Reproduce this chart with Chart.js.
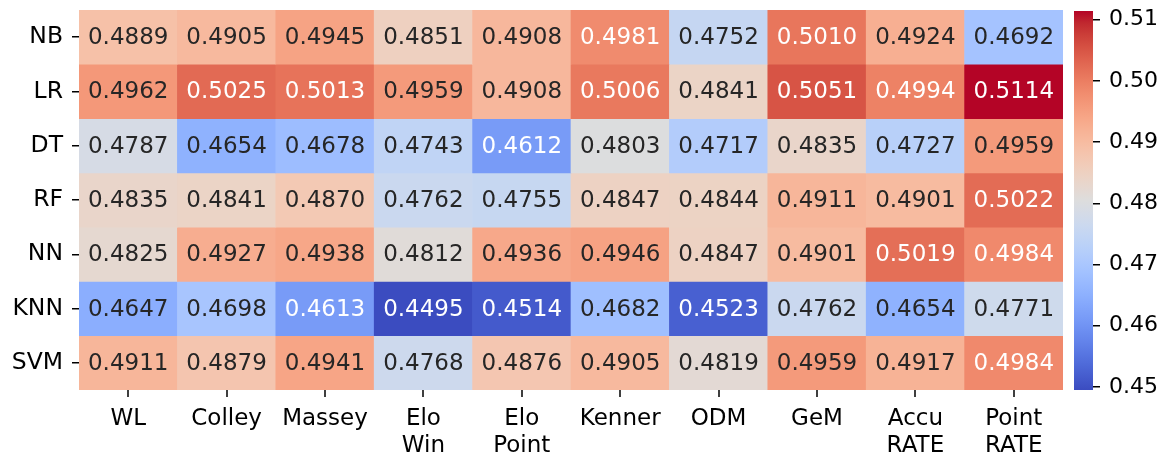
<!DOCTYPE html>
<html>
<head>
<meta charset="utf-8">
<script src="https://cdn.jsdelivr.net/npm/chart.js@4.4.1/dist/chart.umd.min.js"></script>
<style>
  body { margin: 0; background: #fff; }
  #heat { position: absolute; left: 0; top: 0; }
  #cbar { position: absolute; left: 1060px; top: 0; }
</style>
</head>
<body>
<canvas id="heat" width="1067" height="458"></canvas>
<canvas id="cbar" width="107" height="458"></canvas>
<script>
// rows / columns of the heatmap
const rowLabels = ['NB', 'LR', 'DT', 'RF', 'NN', 'KNN', 'SVM'];
const colLabels = [['WL'], ['Colley'], ['Massey'], ['Elo', 'Win'], ['Elo', 'Point'],
                   ['Kenner'], ['ODM'], ['GeM'], ['Accu', 'RATE'], ['Point', 'RATE']];

const nb  = [0.4889, 0.4905, 0.4945, 0.4851, 0.4908, 0.4981, 0.4752, 0.5010, 0.4924, 0.4692];
const lr  = [0.4962, 0.5025, 0.5013, 0.4959, 0.4908, 0.5006, 0.4841, 0.5051, 0.4994, 0.5114];
const dt  = [0.4787, 0.4654, 0.4678, 0.4743, 0.4612, 0.4803, 0.4717, 0.4835, 0.4727, 0.4959];
const rf  = [0.4835, 0.4841, 0.4870, 0.4762, 0.4755, 0.4847, 0.4844, 0.4911, 0.4901, 0.5022];
const nn  = [0.4825, 0.4927, 0.4938, 0.4812, 0.4936, 0.4946, 0.4847, 0.4901, 0.5019, 0.4984];
const knn = [0.4647, 0.4698, 0.4613, 0.4495, 0.4514, 0.4682, 0.4523, 0.4762, 0.4654, 0.4771];
const svm = [0.4911, 0.4879, 0.4941, 0.4768, 0.4876, 0.4905, 0.4819, 0.4959, 0.4917, 0.4984];

const cbTicks = [0.45, 0.46, 0.47, 0.48, 0.49, 0.50, 0.51];

const rows = [nb, lr, dt, rf, nn, knn, svm];
const allVals = rows.flat();
const vmin = Math.min(...allVals);
const vmax = Math.max(...allVals);

// coolwarm colormap (Moreland table)
const cw = [
  [59,76,192],[68,90,204],[77,104,215],[87,117,225],[98,130,234],[108,142,241],[119,154,247],[130,165,251],
  [141,176,254],[152,185,255],[163,194,255],[174,201,253],[184,208,249],[194,213,244],[204,217,238],[213,219,230],
  [221,221,221],[229,216,209],[236,211,197],[241,204,185],[245,196,173],[247,187,160],[247,177,148],[247,166,135],
  [244,154,123],[241,141,111],[236,127,99],[229,112,88],[222,96,77],[213,80,66],[203,62,56],[192,40,47],[180,4,38]
];
function cmap(t) {
  t = Math.max(0, Math.min(1, t));
  const p = t * (cw.length - 1);
  const i = Math.min(Math.floor(p), cw.length - 2);
  const f = p - i;
  return cw[i].map((c, k) => Math.round(c + (cw[i + 1][k] - c) * f));
}
const rgbStr = c => `rgb(${c[0]},${c[1]},${c[2]})`;
const colorFor = v => rgbStr(cmap((v - vmin) / (vmax - vmin)));
function textColorFor(v) {
  const c = cmap((v - vmin) / (vmax - vmin)).map(x => {
    x /= 255;
    return x <= 0.03928 ? x / 12.92 : Math.pow((x + 0.055) / 1.055, 2.4);
  });
  const lum = 0.2126 * c[0] + 0.7152 * c[1] + 0.0722 * c[2];
  return lum > 0.408 ? '#262626' : '#ffffff';
}

Chart.defaults.font.family = "'DejaVu Sans', sans-serif";
Chart.defaults.color = '#000';

const cellText = {
  id: 'cellText',
  afterDatasetsDraw(chart) {
    const ctx = chart.ctx;
    ctx.save();
    ctx.font = "23px 'DejaVu Sans'";
    ctx.textAlign = 'center';
    ctx.textBaseline = 'middle';
    chart.data.datasets.forEach((ds, di) => {
      chart.getDatasetMeta(di).data.forEach((el, i) => {
        const v = rows[di][i];
        const { x, y, base } = el.getProps(['x', 'y', 'base'], true);
        ctx.fillStyle = textColorFor(v);
        ctx.fillText(v.toFixed(4), x, (y + base) / 2 + 1);
      });
    });
    ctx.restore();
  }
};

// tick marks under each column centre
const xTickMarks = {
  id: 'xTickMarks',
  afterDraw(chart) {
    const xs = chart.scales.x;
    const bottom = chart.chartArea.bottom;
    const ctx = chart.ctx;
    ctx.save();
    ctx.fillStyle = '#000';
    chart.data.labels.forEach((lab, i) => {
      const px = Math.round(xs.getPixelForValue(i));
      ctx.fillRect(px - 0.75, bottom, 1.5, 7);
    });
    ctx.restore();
  }
};

new Chart(document.getElementById('heat').getContext('2d'), {
  type: 'bar',
  data: {
    labels: colLabels,
    datasets: rows.map((r, ri) => ({
      label: rowLabels[ri],
      data: r.map(() => 1),
      backgroundColor: r.map(colorFor),
      borderWidth: 0,
      barPercentage: 1,
      categoryPercentage: 1
    }))
  },
  options: {
    responsive: false,
    animation: false,
    layout: { padding: { top: 10, right: 4, left: 0, bottom: 0 } },
    plugins: { legend: { display: false }, tooltip: { enabled: false } },
    scales: {
      x: {
        stacked: true,
        grid: { display: false },
        border: { display: false },
        ticks: { font: { size: 23, lineHeight: 1.17 }, padding: 8, maxRotation: 0, autoSkip: false },
        afterFit(s) { s.height = 68; s.paddingLeft = 0; s.paddingRight = 0; }
      },
      y: {
        stacked: true,
        reverse: true,
        min: 0,
        max: rowLabels.length,
        grid: { drawOnChartArea: false, drawTicks: true, tickLength: 7, color: '#000', lineWidth: 1.5 },
        border: { display: false },
        afterBuildTicks(s) { s.ticks = rowLabels.map((_, i) => ({ value: i + 0.5 })); },
        ticks: { font: { size: 23.5 }, padding: 9, callback: (v, i) => rowLabels[i] },
        afterFit(s) { s.width = 79; s.paddingTop = 0; s.paddingBottom = 0; }
      }
    }
  },
  plugins: [cellText, xTickMarks]
});

// colorbar
new Chart(document.getElementById('cbar').getContext('2d'), {
  type: 'bar',
  data: {
    labels: [''],
    datasets: [{
      data: [[vmin, vmax]],
      borderWidth: 0,
      barPercentage: 1,
      categoryPercentage: 1,
      backgroundColor(c) {
        const ch = c.chart;
        if (!ch.chartArea) return '#ddd';
        const ys = ch.scales.y;
        const g = ch.ctx.createLinearGradient(0, ys.getPixelForValue(vmin), 0, ys.getPixelForValue(vmax));
        cw.forEach((col, i) => g.addColorStop(i / (cw.length - 1), rgbStr(col)));
        return g;
      }
    }]
  },
  options: {
    responsive: false,
    animation: false,
    layout: { padding: { top: 11, left: 14, bottom: 68, right: 0 } },
    plugins: { legend: { display: false }, tooltip: { enabled: false } },
    scales: {
      x: { display: false },
      y: {
        position: 'right',
        min: vmin,
        max: vmax,
        grid: { drawOnChartArea: false, drawTicks: true, tickLength: 7, color: '#000', lineWidth: 1.5 },
        border: { display: false },
        afterBuildTicks(s) { s.ticks = cbTicks.map(v => ({ value: v })); },
        ticks: { font: { size: 22 }, padding: 9, callback: v => v.toFixed(2) },
        afterFit(s) { s.width = 74; s.paddingTop = 0; s.paddingBottom = 0; }
      }
    }
  }
});
</script>
</body>
</html>
